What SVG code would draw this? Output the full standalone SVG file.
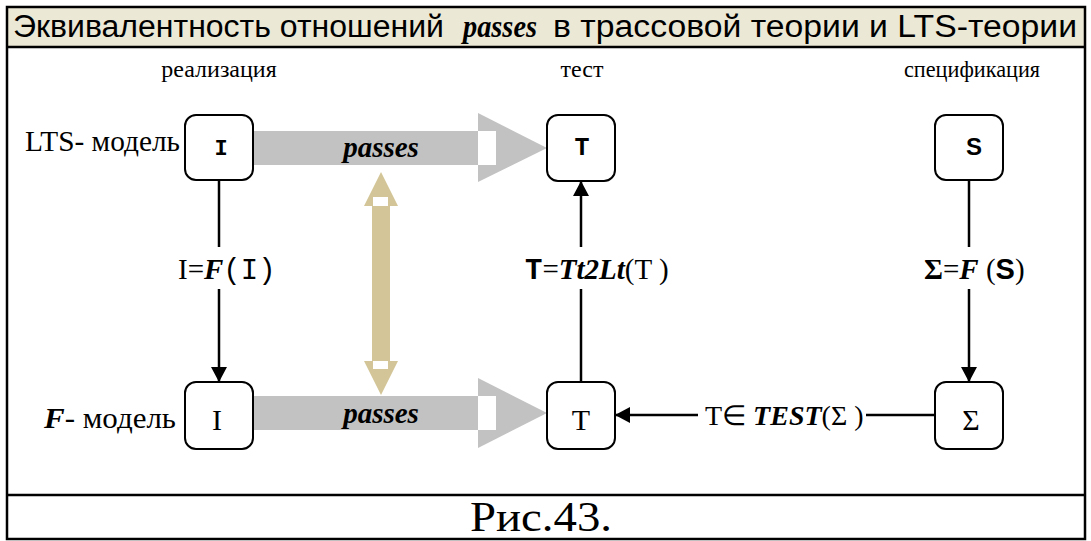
<svg xmlns="http://www.w3.org/2000/svg" width="1091" height="541" viewBox="0 0 1091 541">
<style>
.serif{font-family:"Liberation Serif","Times New Roman",serif}
.sans{font-family:"Liberation Sans",Arial,sans-serif}
.mono{font-family:"Liberation Mono","Courier New",monospace}
.bi{font-weight:bold;font-style:italic}
.b{font-weight:bold}
.box{fill:#fff;stroke:#000;stroke-width:2}
.ln{fill:none;stroke:#000;stroke-width:2.5}
.gray{fill:#c2c2c2}
.tan{fill:#d3c597}
</style>
<defs>
<marker id="ah" viewBox="0 0 15 16" refX="14" refY="8" markerWidth="15" markerHeight="16" orient="auto" markerUnits="userSpaceOnUse"><path d="M0,0 L15,8 L0,16 z" fill="#000"/></marker>
</defs>
<rect x="7" y="7" width="1078" height="40" fill="#ece8d6"/>
<g id="title" class="sans" font-size="31">
<text x="13" y="37" textLength="431" lengthAdjust="spacingAndGlyphs">Эквивалентность отношений</text>
<text x="463" y="37" class="serif bi" textLength="74" lengthAdjust="spacingAndGlyphs">passes</text>
<text x="553" y="37" textLength="524" lengthAdjust="spacingAndGlyphs">в трассовой теории и LTS-теории</text>
</g>
<g id="labels" class="serif" font-size="24" text-anchor="middle">
<text x="219" y="77">реализация</text>
<text x="582" y="77">тест</text>
<text x="904" y="77" text-anchor="start" textLength="136" lengthAdjust="spacingAndGlyphs">спецификация</text>
<text x="25" y="151" text-anchor="start" font-size="29" textLength="155" lengthAdjust="spacingAndGlyphs">LTS- модель</text>
<text x="44" y="428" text-anchor="start" font-size="29" textLength="132" lengthAdjust="spacingAndGlyphs"><tspan class="bi">F</tspan>- модель</text>
</g>
<g id="passes-top">
<rect class="gray" x="253" y="131" width="225" height="34"/>
<path class="gray" d="M478,113 L547,148 L478,182 z"/>
<rect x="478" y="131" width="18" height="34" fill="#fff"/>
<text x="381" y="157" font-size="29" class="serif bi" text-anchor="middle">passes</text>
</g>
<g id="passes-bottom">
<rect class="gray" x="253" y="396" width="225" height="34"/>
<path class="gray" d="M478,378 L547,413 L478,448 z"/>
<rect x="478" y="396" width="18" height="34" fill="#fff"/>
<text x="381" y="423" font-size="29" class="serif bi" text-anchor="middle">passes</text>
</g>
<g id="equivalence">
<path class="tan" d="M381,172 L398,206 L390,206 L390,361 L398,361 L381,395 L364,361 L372,361 L372,206 L364,206 z"/>
<rect x="373" y="197" width="15" height="9" fill="#fff"/>
<rect x="373" y="361" width="15" height="8" fill="#fff"/>
</g>
<g id="node-I-lts"><rect class="box" x="185" y="115" width="68" height="65" rx="11"/><text x="221" y="155" font-size="22" class="mono b" text-anchor="middle">I</text></g>
<g id="node-T-lts"><rect class="box" x="547" y="115" width="68" height="66" rx="11"/><text x="582" y="155" font-size="25" class="mono b" text-anchor="middle">T</text></g>
<g id="node-S"><rect class="box" x="935" y="115" width="68" height="65" rx="11"/><text x="974" y="155" font-size="24" class="sans b" text-anchor="middle">S</text></g>
<g id="node-I-f"><rect class="box" x="185" y="382" width="68" height="67" rx="11"/><text x="217" y="430" font-size="30" class="serif" text-anchor="middle">I</text></g>
<g id="node-T-f"><rect class="box" x="547" y="382" width="68" height="67" rx="11"/><text x="581" y="430" font-size="30" class="serif" text-anchor="middle">T</text></g>
<g id="node-Sigma"><rect class="box" x="935" y="382" width="68" height="67" rx="11"/><text x="971" y="430" font-size="30" class="serif" text-anchor="middle">Σ</text></g>
<g id="connectors">
<line class="ln" x1="219" y1="180" x2="219" y2="247"/>
<line class="ln" x1="219" y1="289" x2="219" y2="381" marker-end="url(#ah)"/>
<line class="ln" x1="581" y1="382" x2="581" y2="289"/>
<line class="ln" x1="581" y1="247" x2="581" y2="182" marker-end="url(#ah)"/>
<line class="ln" x1="969" y1="180" x2="969" y2="247"/>
<line class="ln" x1="969" y1="289" x2="969" y2="381" marker-end="url(#ah)"/>
<line class="ln" x1="935" y1="415" x2="866" y2="415"/>
<line class="ln" x1="698" y1="415" x2="616" y2="415" marker-end="url(#ah)"/>
<text x="178" y="279" font-size="29"><tspan class="serif">I=</tspan><tspan class="serif bi">F</tspan><tspan class="mono">(I)</tspan></text>
<text x="525" y="279" font-size="29"><tspan class="mono b">T</tspan><tspan class="serif">=</tspan><tspan class="serif bi">Tt2Lt</tspan><tspan class="serif">(T )</tspan></text>
<text x="924" y="279" font-size="29"><tspan class="serif b">Σ</tspan><tspan class="serif">=</tspan><tspan class="serif bi">F</tspan><tspan class="serif"> (</tspan><tspan class="sans b">S</tspan><tspan class="serif">)</tspan></text>
<text x="705" y="425" font-size="28"><tspan class="serif">T∈ </tspan><tspan class="serif bi">TEST</tspan><tspan class="serif">(Σ )</tspan></text>
</g>
<text x="470" y="531" font-size="42" class="serif" textLength="142" lengthAdjust="spacingAndGlyphs">Рис.43.</text>
<g id="frame" fill="none" stroke="#000" stroke-width="2.5">
<rect x="7" y="7" width="1078" height="532"/>
<line x1="7" y1="47" x2="1085" y2="47"/>
<line x1="7" y1="495" x2="1085" y2="495"/>
</g>
</svg>
